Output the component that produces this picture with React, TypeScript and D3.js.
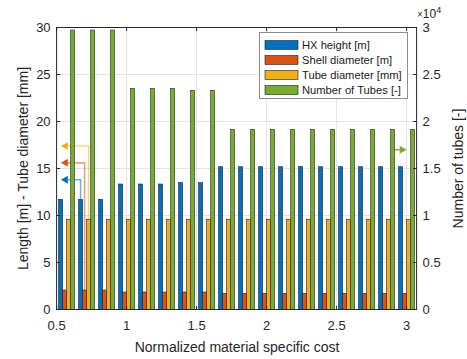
import React from "react";
import * as d3 from "d3";

// ---- data ----
const costs = [4, 5, 6, 7, 8, 9, 10, 11, 12, 13, 14, 15, 16, 17, 18, 19, 20, 21].map((k) => k / 7);
const hxHeight = [11.72, 11.72, 11.72, 13.35, 13.35, 13.35, 13.49, 13.49, 15.19, 15.19, 15.19, 15.19, 15.2, 15.19, 15.19, 15.19, 15.19, 15.19];
const shellDiameter = [2.07, 2.07, 2.07, 1.86, 1.86, 1.86, 1.86, 1.86, 1.72, 1.72, 1.72, 1.72, 1.72, 1.72, 1.72, 1.72, 1.72, 1.72];
const tubeDiameter = [9.6, 9.6, 9.6, 9.6, 9.6, 9.6, 9.6, 9.6, 9.6, 9.6, 9.6, 9.6, 9.6, 9.6, 9.6, 9.6, 9.6, 9.6];
const numTubes = [29730, 29730, 29730, 23530, 23530, 23530, 23320, 23320, 19170, 19170, 19170, 19170, 19170, 19170, 19170, 19170, 19170, 19170];

const xTicks = [0.5, 1, 1.5, 2, 2.5, 3];
const xTickLabels = ["0.5", "1", "1.5", "2", "2.5", "3"];
const yLeftTicks = [0, 5, 10, 15, 20, 25, 30];
const yRightTicks = [0, 5000, 10000, 15000, 20000, 25000, 30000];
const yRightTickLabels = ["0", "0.5", "1", "1.5", "2", "2.5", "3"];
const legendLabels = ["HX height [m]", "Shell diameter [m]", "Tube diameter [mm]", "Number of Tubes [-]"];
const colors = ["#0072BD", "#D95319", "#EDB120", "#77AC30"];

const W = 467, H = 359;
const L = 56.6, R = 416.6, T = 27.5, B = 309.5;
const FONT = "'Liberation Sans', Arial, Helvetica, sans-serif";
const AX = "#262626";

export default function App() {
  const step = 1 / 7;
  const x = d3.scaleLinear().domain([costs[0] - step / 2, costs[costs.length - 1] + step / 2]).range([L, R]);
  const yL = d3.scaleLinear().domain([0, 30]).range([B, T]);
  const yR = d3.scaleLinear().domain([0, 30000]).range([B, T]);
  const bw = step * 0.2;
  const series = [hxHeight, shellDiameter, tubeDiameter];

  const barRect = (c: number, k: number) => {
    const x0 = x(c + (k - 2) * bw);
    const x1 = x(c + (k - 1) * bw);
    return { x0, w: x1 - x0 };
  };
  const barCenter = (c: number, k: number) => x(c + (k - 1.5) * bw);

  const tipX = x(0.53);
  const head = 7;
  const hh = 4;
  const arrowsLeft = [
    { k: 2, yv: 17.4, top: tubeDiameter[1] },
    { k: 1, yv: 15.6, top: shellDiameter[1] },
    { k: 0, yv: 13.8, top: hxHeight[1] },
  ];
  const gY = yR(17000);
  const gTip = x(3.0);
  const gStart = barCenter(costs[16], 3);

  return (
    <svg width={W} height={H} style={{ position: "absolute", left: 0, top: 0, background: "#fff" }} fontFamily={FONT}>
      <rect x={0} y={0} width={W} height={H} fill="#fff" />
      <rect x={L} y={T} width={R - L} height={B - T} fill="#fff" />
      {/* grid */}
      {yLeftTicks.slice(1, -1).map((t) => (
        <line key={"gy" + t} x1={L} x2={R} y1={yL(t)} y2={yL(t)} stroke="#e3e3e3" strokeWidth={1} />
      ))}
      {xTicks.slice(1).map((t) => (
        <line key={"gx" + t} x1={x(t)} x2={x(t)} y1={T} y2={B} stroke="#e3e3e3" strokeWidth={1} />
      ))}
      {/* annotation arrows (left) */}
      {arrowsLeft.map((a) => {
        const vx = barCenter(costs[1], a.k);
        const yy = yL(a.yv);
        return (
          <g key={"al" + a.k}>
            <path d={`M${vx},${yL(a.top)} L${vx},${yy} L${tipX + head},${yy}`} fill="none" stroke={colors[a.k]} strokeOpacity={0.55} strokeWidth={1.6} />
            <path d={`M${tipX},${yy} L${tipX + head},${yy - hh} L${tipX + head},${yy + hh} Z`} fill={colors[a.k]} />
          </g>
        );
      })}
      {/* left-axis bars */}
      {series.map((s, k) =>
        s.map((v, i) => {
          const r = barRect(costs[i], k);
          return <rect key={`b${k}-${i}`} x={r.x0} y={yL(v)} width={r.w} height={B - yL(v)} fill={colors[k]} stroke="#1f1f1f" strokeWidth={0.6} />;
        })
      )}
      {/* green arrow */}
      <line x1={gStart} x2={gTip - head} y1={gY} y2={gY} stroke={colors[3]} strokeWidth={1.6} />
      <path d={`M${gTip},${gY} L${gTip - head},${gY - hh} L${gTip - head},${gY + hh} Z`} fill={colors[3]} />
      {/* right-axis bars */}
      {numTubes.map((v, i) => {
        const r = barRect(costs[i], 3);
        return <rect key={`g${i}`} x={r.x0} y={yR(v)} width={r.w} height={B - yR(v)} fill={colors[3]} stroke="#2a2a2a" strokeWidth={0.6} />;
      })}
      {/* axes box */}
      <rect x={L} y={T} width={R - L} height={B - T} fill="none" stroke={AX} strokeWidth={1} />
      {yLeftTicks.map((t) => (
        <g key={"yl" + t}>
          <line x1={L} x2={L + 3.6} y1={yL(t)} y2={yL(t)} stroke={AX} />
          <text x={L - 6} y={yL(t)} dy="0.35em" textAnchor="end" fontSize={13} fill={AX}>{t}</text>
        </g>
      ))}
      {yRightTicks.map((t, i) => (
        <g key={"yr" + t}>
          <line x1={R - 3.6} x2={R} y1={yR(t)} y2={yR(t)} stroke={AX} />
          <text x={R + 6} y={yR(t)} dy="0.35em" textAnchor="start" fontSize={13} fill={AX}>{yRightTickLabels[i]}</text>
        </g>
      ))}
      {xTicks.map((t, i) => (
        <g key={"xt" + t}>
          <line x1={x(t)} x2={x(t)} y1={B} y2={B - 3.6} stroke={AX} />
          <line x1={x(t)} x2={x(t)} y1={T} y2={T + 3.6} stroke={AX} />
          <text x={x(t)} y={329.5} textAnchor="middle" fontSize={13} fill={AX}>{xTickLabels[i]}</text>
        </g>
      ))}
      {/* exponent */}
      <text x={417} y={18} fontSize={12} fill={AX}>
        <tspan fontSize={10}>×</tspan>
        <tspan>10</tspan>
        <tspan fontSize={9} dy={-5}>4</tspan>
      </text>
      {/* axis labels */}
      <text x={237} y={351.5} textAnchor="middle" fontSize={14} fill={AX}>Normalized material specific cost</text>
      <text transform={`translate(27.5,${(T + B) / 2}) rotate(-90)`} textAnchor="middle" fontSize={14} fill={AX}>Length [m] - Tube diameter [mm]</text>
      <text transform={`translate(463,${(T + B) / 2}) rotate(-90)`} textAnchor="middle" fontSize={14} fill={AX}>Number of tubes [-]</text>
      {/* legend */}
      <rect x={259.5} y={32.5} width={148} height={66} fill="#fff" stroke="#8c8c8c" strokeWidth={1} />
      {legendLabels.map((lab, i) => {
        const cy = 45 + i * 15;
        return (
          <g key={"lg" + i}>
            <rect x={265} y={cy - 4.5} width={33} height={9} fill={colors[i]} stroke="#1f1f1f" strokeWidth={0.6} />
            <text x={302} y={cy} dy="0.36em" fontSize={11.2} fill="#1a1a1a">{lab}</text>
          </g>
        );
      })}
    </svg>
  );
}
